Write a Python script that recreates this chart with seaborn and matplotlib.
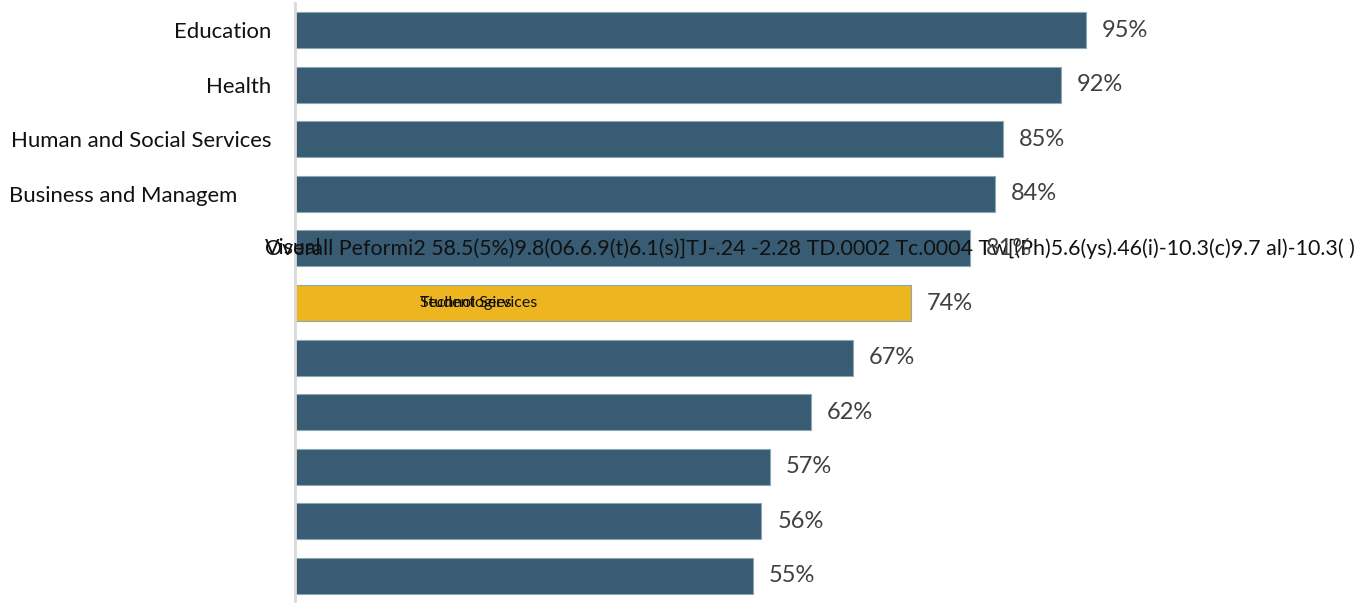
import matplotlib
matplotlib.use("Agg")
import matplotlib.pyplot as plt
import seaborn as sns
import pandas as pd

# data
fields = ["Education", "Health", "Human and Social Services", "Business and Managem",
          "Visual and Performing Arts", "Student Services", "r7", "r8", "r9", "r10", "r11"]
tick_labels = ["Education", "Health", "Human and Social Services", "Business and Managem      ",
               "", "", "", "", "", "", ""]
pct = [95, 92, 85, 84, 81, 74, 67, 62, 57, 56, 55]
highlight = "Student Services"

garbled = ("Overall Peformi2 58.5(5%)9.8(06.6.9(t)6.1(s)]TJ-.24 -2.28 TD.0002 "
           "Tc.0004 Tw[(Ph)5.6(ys).46(i)-10.3(c)9.7 al)-10.3( )")

df = pd.DataFrame({"field": fields, "pct": pct})

sns.set_theme(style="white")
plt.rcParams['font.family'] = ['Lato', 'DejaVu Sans']

fig = plt.figure(figsize=(13.66, 6.03), dpi=100)
ax = fig.add_axes([295 / 1366, 0, 1 - 295 / 1366, 600 / 603])

colors = ["#EDB51F" if f == highlight else "#375C73" for f in fields]
sns.barplot(data=df, y="field", x="pct", hue="field", palette=colors, legend=False,
            saturation=1, width=0.66, edgecolor="#8FA6B4", linewidth=0.8, ax=ax)

ax.set_xlim(0, 128.6)
ax.set_ylim(len(fields) - 0.5, -0.5)
ax.set_xlabel("")
ax.set_ylabel("")
ax.set_xticks([])
ax.set_yticks(range(len(fields)))
ax.set_yticklabels(tick_labels, fontsize=15.9, color="#111111")
ax.tick_params(axis="y", length=0, pad=17)
for s in ["top", "right", "bottom"]:
    ax.spines[s].set_visible(False)
ax.spines["left"].set_color("#D9D9D9")
ax.spines["left"].set_linewidth(2)

for i, v in enumerate(pct):
    if i == 4:
        continue
    ax.text(v + 1.9, i, f"{v}%", va="center", ha="left", fontsize=17, color="#404040")

# garbled rows as they appear in the reference
ax.text(-3.6, 4, garbled, va="center", ha="left", fontsize=15.4, color="#111111")
ax.text(-3.6, 4, "Visual", va="center", ha="left", fontsize=15.4, color="#111111")
ax.text(pct[4] + 1.9, 4, f"{pct[4]}%", va="center", ha="left", fontsize=17, color="#404040")
ax.text(15, 5, "Student Services", va="center", ha="left", fontsize=11.5, color="#111111")
ax.text(15, 5, "Technologies", va="center", ha="left", fontsize=11.5, color="#111111")

plt.savefig("out.png", dpi=100)
